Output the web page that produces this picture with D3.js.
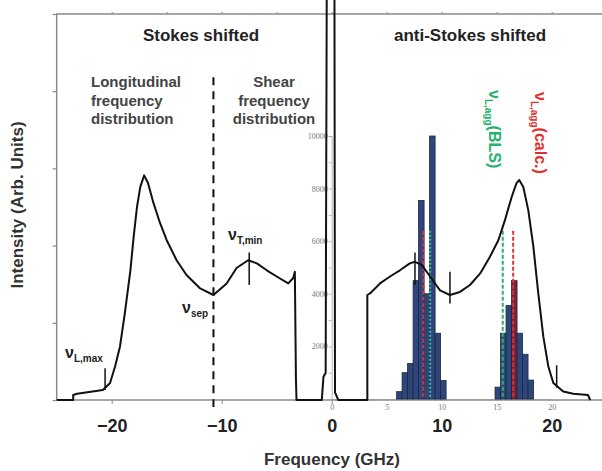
<!DOCTYPE html>
<html>
<head>
<meta charset="utf-8">
<script src="https://cdn.jsdelivr.net/npm/d3@7"></script>
<style>
  body { margin: 0; background: #fff; }
  svg { display: block; font-family: "Liberation Sans", Arial, sans-serif; }
  .lbl { font-weight: bold; }
  .inset text { font-family: "Liberation Serif", "DejaVu Serif", serif; font-size: 8px; fill: #777; }
  .inset path, .inset line { stroke: #999; stroke-width: 0.7; }
</style>
</head>
<body>
<script>
var width = 602, height = 471;

// measured spectrum (GHz, arbitrary intensity)
var specFreq = [-25, -23.5, -23.5, -23.15, -20.8, -20.15, -19.7, -19.25, -18.8, -18.3, -18.0, -17.7, -17.4, -17.05,
                -16.7, -16.2, -15.6, -15.0, -14.1, -13.2, -12.0, -10.75, -9.55, -8.65, -7.6, -6.8, -5.9, -5.0,
                -3.95, -3.5, -3.35, -3.25, -3.2, -0.9, -0.75, -0.55, -0.45, 0.25, 0.3, 0.6,
                3.24, 3.24, 3.48, 4.39, 5.3, 6.2, 7.1, 7.57, 8.18, 8.94, 9.85, 10.75, 11.66, 12.57, 13.5,
                14.4, 15.15, 15.75, 16.36, 16.8, 17.05, 17.42, 17.87, 18.33, 18.78, 19.24, 19.7, 20.15,
                21.05, 21.96, 23.3, 23.5];
var specInt = [0, 0, 0.065, 0.08, 0.13, 0.22, 0.43, 0.69, 1.13, 1.68, 2.12, 2.50, 2.76, 2.91,
               2.81, 2.55, 2.29, 2.07, 1.81, 1.62, 1.45, 1.36, 1.51, 1.71, 1.81, 1.77, 1.68, 1.60,
               1.51, 1.58, 1.66, 0.26, 0, 0, 0.3, 0.35, 5.3, 5.3, 0.1, 0,
               0, 1.36, 1.38, 1.51, 1.60, 1.68, 1.77, 1.79, 1.75, 1.60, 1.42, 1.36, 1.40, 1.49, 1.64,
               1.86, 2.07, 2.33, 2.63, 2.81, 2.85, 2.76, 2.46, 1.99, 1.38, 0.82, 0.43, 0.22,
               0.11, 0.08, 0.065, 0];

// short marker ticks on the curve
var markFreq = [-20.6, -7.5, 7.57, 10.75, 20.45];
var markLo = [0.13, 1.49, 1.49, 1.25, 0.16];
var markHi = [0.41, 1.91, 1.91, 1.66, 0.45];
var sepFreq = -10.75;

// histogram of aggregate frequencies (inset)
var binLeft = [5.9, 6.4, 6.9, 7.4, 7.9, 8.4, 8.9, 9.4, 9.9, 14.85, 15.35, 15.85, 16.35, 16.85, 17.35, 17.85];
var binCount = [280, 1000, 1350, 4500, 7550, 4000, 10000, 2500, 700, 450, 2500, 3550, 4500, 2500, 1700, 720];
var binWidth = 0.5;
var binCalc = [false, false, false, false, false, false, false, false, false, false, false, false, true, false, false, false];

var blsFreq = [8.95, 15.55], calcFreq = [8.33, 16.5], aggTop = 6400;

var mainTicks = [-20, -10, 0, 10, 20];
var insetXTicks = [0, 5, 10, 15, 20, 25];
var insetYTicks = [2000, 4000, 6000, 8000, 10000];

var x = d3.scaleLinear().domain([0, 20]).range([331.7, 551.7]);
var y = d3.scaleLinear().domain([0, 5]).range([400, 14]);
var yi = d3.scaleLinear().domain([0, 10000]).range([399, 136]);

var svg = d3.select("body").append("svg")
    .attr("width", width).attr("height", height);

// frame
svg.append("path")
   .attr("d", "M" + width + "," + y(5) + "H" + x(-25) + "V" + y(0) + "H" + width)
   .style("fill", "none").style("stroke", "#8a8a8a").style("stroke-width", 1.5);

svg.append("g").attr("transform", "translate(" + x(-25) + ",0)")
   .call(d3.axisLeft(y).ticks(5).tickSize(4).tickFormat(""))
   .call(function(g){ g.select(".domain").remove(); g.selectAll("line").style("stroke", "#8a8a8a").style("stroke-width", 1.2); });

var fiveTicks = d3.range(-20, 26, 5);
svg.append("g").attr("transform", "translate(0," + y(5) + ")")
   .call(d3.axisTop(x).tickValues(fiveTicks).tickSize(2).tickFormat(""))
   .call(function(g){ g.select(".domain").remove(); g.selectAll("line").style("stroke", "#8a8a8a"); });
svg.append("g").attr("transform", "translate(0," + y(0) + ")")
   .call(d3.axisBottom(x).tickValues([-20, -10, 0]).tickSize(4).tickFormat(""))
   .call(function(g){ g.select(".domain").remove(); g.selectAll("line").style("stroke", "#8a8a8a"); });

// main tick labels
svg.append("g").attr("transform", "translate(0," + y(0) + ")")
   .call(d3.axisBottom(x).tickValues(mainTicks).tickSize(0).tickPadding(19).tickFormat(d3.format("d")))
   .call(function(g){
       g.select(".domain").remove();
       g.selectAll("text").attr("class", "lbl").style("font-size", "18px").style("fill", "#222")
        .style("font-family", "'Liberation Sans', Arial, sans-serif");
   });

// inset axes
var inset = svg.append("g").attr("class", "inset");
inset.append("g").attr("transform", "translate(0," + yi(0) + ")")
     .call(d3.axisBottom(x).tickValues(insetXTicks).tickSize(2).tickPadding(3));
inset.append("g").attr("transform", "translate(" + x(0) + ",0)")
     .call(d3.axisLeft(yi).tickValues(d3.range(1000, 10001, 1000)).tickSize(3).tickPadding(1)
           .tickFormat(function(d){ return insetYTicks.indexOf(d) >= 0 ? d : ""; }));

// histogram bars
svg.selectAll(".bar")
   .data(binLeft)
   .enter().append("rect")
   .attr("class", "bar")
   .attr("x", function(d){ return x(d); })
   .attr("width", function(d){ return x(d + binWidth) - x(d); })
   .attr("y", function(d, i){ return yi(binCount[i]); })
   .attr("height", function(d, i){ return yi(0) - yi(binCount[i]); })
   .style("fill", function(d, i){ return binCalc[i] ? "#7a2235" : "#2e4679"; })
   .style("stroke", "#1b2544").style("stroke-width", 0.8);

// aggregate frequency lines
svg.selectAll(".calc").data(calcFreq).enter().append("line")
   .attr("x1", function(d){ return x(d); }).attr("x2", function(d){ return x(d); })
   .attr("y1", yi(aggTop)).attr("y2", yi(0))
   .style("stroke", "#d4343e").style("stroke-width", 2).style("stroke-dasharray", "4,2");
svg.selectAll(".bls").data(blsFreq).enter().append("line")
   .attr("x1", function(d){ return x(d); }).attr("x2", function(d){ return x(d); })
   .attr("y1", yi(aggTop)).attr("y2", yi(0))
   .style("stroke", function(d, i){ return i == 0 ? "#3bbfa4" : "#27b36a"; }).style("stroke-width", 2)
   .style("stroke-dasharray", function(d, i){ return i == 0 ? "2,2" : "4,2"; });

// spectrum
var line = d3.line()
    .x(function(d){ return x(d); })
    .y(function(d, i){ return y(specInt[i]); });
svg.append("path")
   .attr("d", line(specFreq))
   .style("fill", "none").style("stroke", "#111").style("stroke-width", 2).style("stroke-linejoin", "round");

// markers
svg.selectAll(".mark").data(markFreq).enter().append("line")
   .attr("x1", function(d){ return x(d); }).attr("x2", function(d){ return x(d); })
   .attr("y1", function(d, i){ return y(markLo[i]); }).attr("y2", function(d, i){ return y(markHi[i]); })
   .style("stroke", "#111").style("stroke-width", 1.5);

svg.append("line")
   .attr("x1", x(sepFreq)).attr("x2", x(sepFreq))
   .attr("y1", y(4.18)).attr("y2", y(-0.09))
   .style("stroke", "#111").style("stroke-width", 2).style("stroke-dasharray", "8,6");

// texts
function label(tx, ty, str, size, fill, anchor) {
    return svg.append("text").attr("class", "lbl").attr("x", tx).attr("y", ty)
              .attr("text-anchor", anchor || "middle").style("font-size", size + "px").style("fill", fill)
              .text(str);
}
label(201, 41, "Stokes shifted", 17, "#222");
label(470, 41, "anti-Stokes shifted", 17, "#222");
label(91, 87, "Longitudinal", 15, "#444", "start");
label(91, 106, "frequency", 15, "#444", "start");
label(91, 124, "distribution", 15, "#444", "start");
label(274, 87, "Shear", 15, "#444");
label(274, 106, "frequency", 15, "#444");
label(274, 124, "distribution", 15, "#444");

function nu(tx, ty, sub, fill, rot) {
    var t = svg.append("text").attr("class", "lbl").style("fill", fill).style("font-size", "16px");
    if (rot) t.attr("transform", "translate(" + tx + "," + ty + ") rotate(90)");
    else t.attr("x", tx).attr("y", ty);
    t.append("tspan").text("ν");
    t.append("tspan").attr("dy", 4).style("font-size", "10px").text(sub);
    return t;
}
nu(65, 358, "L,max", "#222");
nu(182, 313, "sep", "#222");
nu(228, 240, "T,min", "#222");
nu(489, 90, "L,agg", "#25b26a", true).append("tspan").attr("dy", -4).text("(BLS)");
nu(535, 92, "L,agg", "#e0302e", true).append("tspan").attr("dy", -4).text("(calc.)");

svg.append("text").attr("class", "lbl")
   .attr("transform", "translate(23,205) rotate(-90)")
   .attr("text-anchor", "middle").style("font-size", "17px").style("fill", "#333")
   .text("Intensity (Arb. Units)");
svg.append("text").attr("class", "lbl")
   .attr("x", 332).attr("y", 465)
   .attr("text-anchor", "middle").style("font-size", "17px").style("fill", "#333")
   .text("Frequency (GHz)");
</script>
</body>
</html>
